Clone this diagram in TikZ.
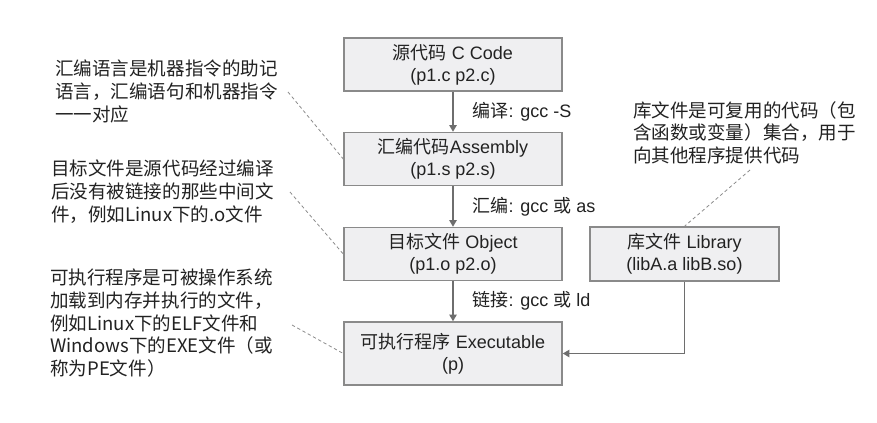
\documentclass[tikz,border=0pt]{standalone}
\usepackage{fontspec}
\setmainfont{Liberation Sans}
\newfontfamily\cjk{Noto Sans CJK SC}
\usetikzlibrary{arrows.meta}
\definecolor{boxfill}{HTML}{EFEFF1}
\definecolor{boxline}{HTML}{8A8A8A}
\definecolor{arrowc}{HTML}{6E6E6E}
\definecolor{txt}{HTML}{222222}
\definecolor{dashc}{HTML}{8C8C8C}
\begin{document}
\begin{tikzpicture}[x=0.75pt,y=-0.75pt,
  stage/.style={draw=boxline, fill=boxfill, line width=1.1pt, minimum width=163.5pt,
    minimum height=39.75pt, align=center, font=\fontsize{13.5pt}{16.5pt}\selectfont,
    text=txt, inner sep=0pt},
  flow/.style={draw=arrowc, line width=1.1pt, -{Triangle[length=5pt,width=5.5pt]}},
  elabel/.style={font=\fontsize{13.5pt}{16.5pt}\selectfont, text=txt, anchor=west,
    inner sep=0pt, xshift=14.25pt},
  note/.style={font=\cjk\fontsize{13.9pt}{16.9pt}\selectfont, text=txt, align=left,
    anchor=north west, inner sep=0pt},
  pointer/.style={draw=dashc, line width=0.6pt, dash pattern=on 2.5pt off 2pt}]
\useasboundingbox (0,0) rectangle (877,422);
\fill[white] (0,0) rectangle (877,422);

\node[stage] (src) at (453,64.5) {{\cjk 源代码} C Code\\(p1.c p2.c)};
\node[stage] (asm) at (453,159) {{\cjk 汇编代码}Assembly\\(p1.s p2.s)};
\node[stage] (obj) at (453,254) {{\cjk 目标文件} Object\\(p1.o p2.o)};
\node[stage, minimum height=47.25pt] (exe) at (453,353.5) {{\cjk 可执行程序} Executable\\(p)};
\node[stage, minimum width=141.75pt, minimum height=40.5pt] (lib) at (684.5,254)
  {{\cjk 库文件} Library\\(libA.a libB.so)};

\draw[flow] (src) -- node[elabel] {{\cjk 编译}: gcc -S} (asm);
\draw[flow] (asm) -- node[elabel] {{\cjk 汇编}: gcc {\cjk 或} as} (obj);
\draw[flow] (obj) -- node[elabel] {{\cjk 链接}: gcc {\cjk 或} ld} (exe);
\draw[flow] (lib.south) |- (exe.east);

\node[note] (n1) at (55,60) {汇编语言是机器指令的助记\\语言，汇编语句和机器指令\\一一对应};
\node[note] (n2) at (51,160) {目标文件是源代码经过编译\\后没有被链接的那些中间文\\件，例如Linux下的.o文件};
\node[note] (n3) at (50,269) {可执行程序是可被操作系统\\加载到内存并执行的文件，\\例如Linux下的ELF文件和\\Windows下的EXE文件（或\\称为PE文件）};
\node[note] (n4) at (633,101) {库文件是可复用的代码（包\\含函数或变量）集合，用于\\向其他程序提供代码};

\coordinate (p1) at (288,92);
\coordinate (p2) at (290,192);
\coordinate (p3) at (292,325);
\coordinate (p4) at (750,170);
\draw[pointer] (p1) -- (asm.west);
\draw[pointer] (p2) -- (obj.west);
\draw[pointer] (p3) -- (exe.west);
\draw[pointer] (p4) -- (lib.north);
\end{tikzpicture}
\end{document}
